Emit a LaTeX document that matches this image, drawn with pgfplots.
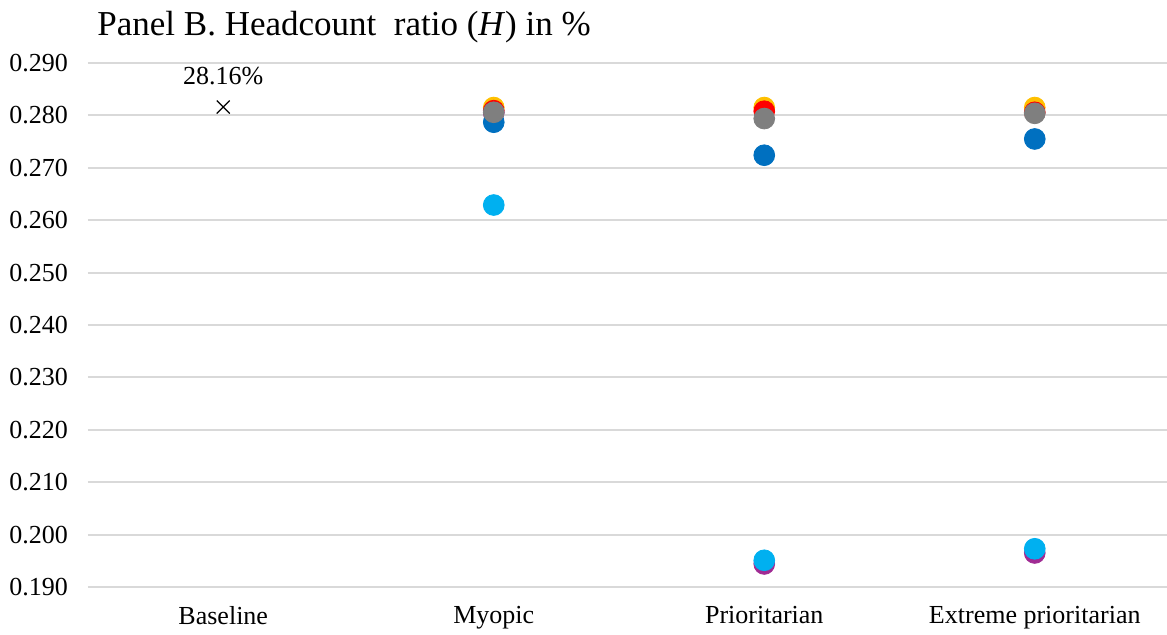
\documentclass[border=0pt]{standalone}
\usepackage{pgfplots}
\pgfplotsset{compat=1.18}
\usepackage{fontspec}
\setmainfont{Liberation Serif}
\definecolor{cOrange}{HTML}{FFC000}
\definecolor{cRed}{HTML}{FF0000}
\definecolor{cGray}{HTML}{7F7F7F}
\definecolor{cDBlue}{HTML}{0070C0}
\definecolor{cLBlue}{HTML}{00B0F0}
\definecolor{cPurple}{HTML}{A02B93}
\definecolor{cGrid}{HTML}{D9D9D9}
\begin{document}
\begin{tikzpicture}
\useasboundingbox (-44pt,-23.5pt) rectangle (539.5pt,293.5pt);
\begin{axis}[
  scale only axis,
  width=541pt, height=262pt,
  at={(0,0)},
  xmin=-0.5, xmax=3.5,
  ymin=0.19, ymax=0.29,
  ytick={0.19,0.20,...,0.29},
  xtick={0,1,2,3},
  xticklabels={Baseline,Myopic,Prioritarian,Extreme prioritarian},
  axis line style={draw=none},
  major tick length=0pt,
  ymajorgrids,
  grid style={cGrid, line width=1pt},
  /pgf/number format/fixed,
  /pgf/number format/fixed zerofill,
  /pgf/number format/precision=3,
  /pgf/number format/assume math mode=true,
  tick label style={font=\fontsize{13pt}{15pt}\selectfont},
  xticklabel style={yshift=-6pt},
  yticklabel style={xshift=-6.5pt},
  clip=false,
]
\addplot[only marks, mark=x, mark size=4.6pt, black, line width=0.6pt,
  nodes near coords={28.16\%}, every node near coord/.style={font=\fontsize{13pt}{15pt}\selectfont, black, yshift=7.5pt}]
  coordinates {(0,0.2816)};
\addplot[only marks, mark=*, mark size=5.2pt, color=cOrange] coordinates {(1,0.2815) (2,0.2815) (3,0.2815)};
\addplot[only marks, mark=*, mark size=5.2pt, color=cRed] coordinates {(1,0.2809) (2,0.2808) (3,0.2806)};
\addplot[only marks, mark=*, mark size=5.2pt, color=cPurple] coordinates {(1,0.2805) (2,0.1944) (3,0.1965)};
\addplot[only marks, mark=*, mark size=5.2pt, color=cDBlue] coordinates {(1,0.2787) (2,0.2724) (3,0.2755)};
\addplot[only marks, mark=*, mark size=5.2pt, color=cLBlue] coordinates {(1,0.2629) (2,0.1951) (3,0.1973)};
\addplot[only marks, mark=*, mark size=5.2pt, color=cGray] coordinates {(1,0.2806) (2,0.2794) (3,0.2804)};
\node[anchor=base west, font=\fontsize{17.5pt}{20pt}\selectfont, inner sep=0pt] at (rel axis cs:0,1) [xshift=4.5pt, yshift=14pt] {Panel B. Headcount\ \ ratio (\textit{H}) in \%};
\end{axis}
\end{tikzpicture}
\end{document}
